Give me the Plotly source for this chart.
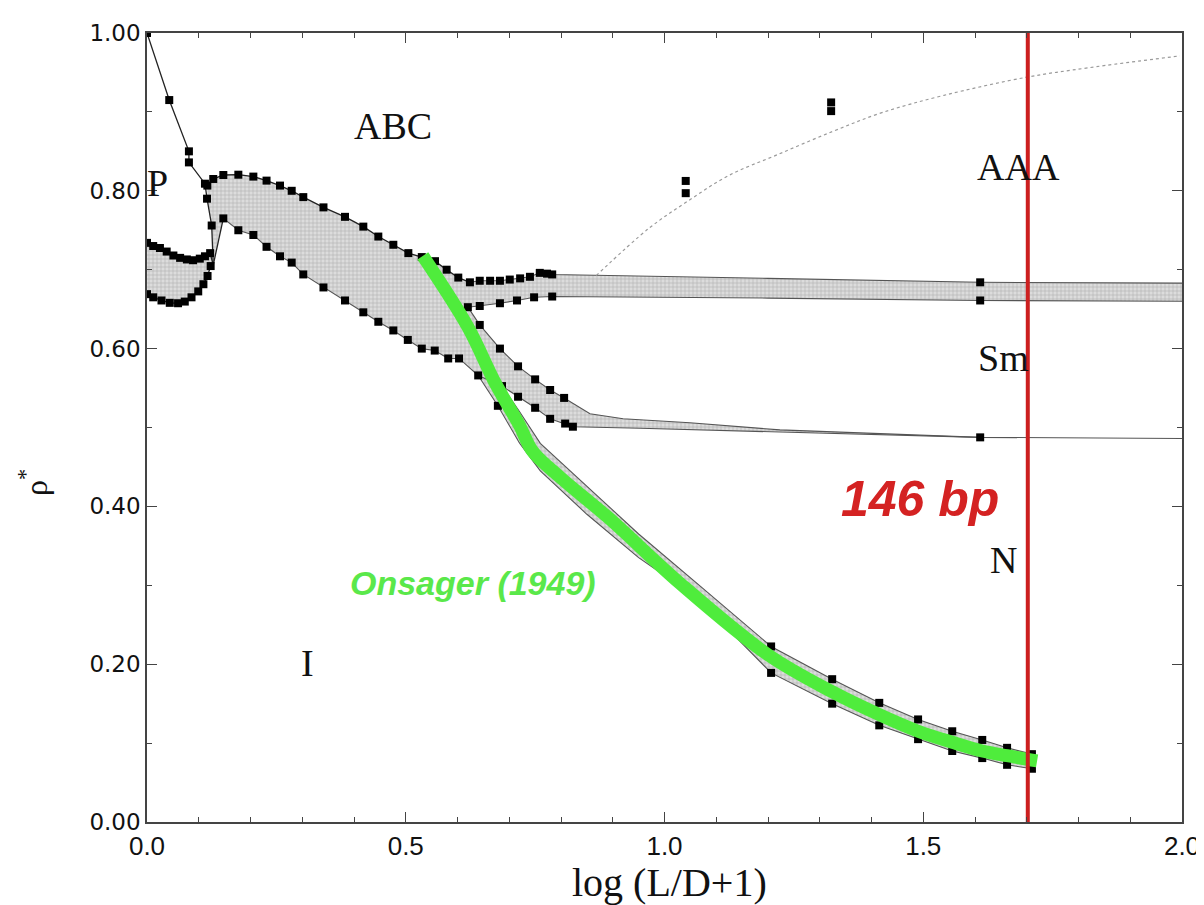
import plotly.graph_objects as go

# ---------------- data ----------------
# P boundary line from the top-left corner
p_x = [0.0, 0.043, 0.081, 0.081, 0.112, 0.116, 0.125, 0.128]
p_y = [1.0, 0.915, 0.85, 0.836, 0.809, 0.79, 0.756, 0.706]
p_dot_x = [0.0, 0.043, 0.081, 0.081, 0.112, 0.116, 0.125]
p_dot_y = [1.0, 0.915, 0.85, 0.836, 0.809, 0.79, 0.756]

# small left loop (upper / lower branch)
loopU_x = [0.0, 0.012, 0.025, 0.038, 0.051, 0.064, 0.077, 0.089, 0.102, 0.112, 0.122, 0.128]
loopU_y = [0.734, 0.730, 0.7275, 0.723, 0.718, 0.715, 0.713, 0.712, 0.714, 0.717, 0.721, 0.706]
loopL_x = [0.0, 0.012, 0.028, 0.044, 0.060, 0.073, 0.086, 0.099, 0.109, 0.117, 0.123, 0.128]
loopL_y = [0.669, 0.665, 0.661, 0.658, 0.6575, 0.6596, 0.665, 0.6725, 0.6816, 0.692, 0.7046, 0.706]

# connector from loop junction to the lower-band peak
conn_x = [0.128, 0.1475]
conn_y = [0.706, 0.765]

# upper boundary of the big coexistence band
top_x = [0.1166, 0.128, 0.1475, 0.1765, 0.2055, 0.231, 0.257, 0.2796, 0.302, 0.341,
         0.3826, 0.418, 0.447, 0.476, 0.505, 0.531, 0.5565, 0.579, 0.6015, 0.624]
top_y = [0.8066, 0.815, 0.820, 0.8204, 0.818, 0.8129, 0.8066, 0.800, 0.792, 0.779,
         0.767, 0.7546, 0.742, 0.7316, 0.721, 0.716, 0.7108, 0.700, 0.690, 0.684]

# narrow mid band (upper / lower)
midU_x = [0.624, 0.643, 0.663, 0.682, 0.701, 0.721, 0.740, 0.759, 0.773, 0.783, 1.2, 1.61, 2.0]
midU_y = [0.684, 0.686, 0.686, 0.686, 0.6875, 0.689, 0.691, 0.696, 0.695, 0.694, 0.689, 0.684, 0.683]
midU_dot_x = [0.643, 0.663, 0.682, 0.701, 0.721, 0.740, 0.759, 0.773, 0.783, 1.61]
midU_dot_y = [0.686, 0.686, 0.686, 0.6875, 0.689, 0.691, 0.696, 0.695, 0.694, 0.684]
midL_x = [0.62, 0.643, 0.682, 0.715, 0.748, 0.783, 1.2, 1.61, 2.0]
midL_y = [0.6525, 0.654, 0.6575, 0.661, 0.665, 0.666, 0.664, 0.661, 0.66]
midL_dot_x = [0.643, 0.682, 0.715, 0.748, 0.783, 1.61]
midL_dot_y = [0.654, 0.6575, 0.661, 0.665, 0.666, 0.661]

# Sm-N band upper line
smU_x = [0.62, 0.643, 0.682, 0.717, 0.750, 0.779, 0.806, 0.856, 0.92, 1.049, 1.223, 1.61, 2.0]
smU_y = [0.6525, 0.63, 0.60, 0.5775, 0.561, 0.5475, 0.5375, 0.5175, 0.511, 0.506, 0.497, 0.4875, 0.486]
smU_dot_x = [0.62, 0.643, 0.682, 0.717, 0.750, 0.779, 0.806, 1.61]
smU_dot_y = [0.6525, 0.63, 0.60, 0.5775, 0.561, 0.5475, 0.5375, 0.4875]

# lower boundary of the big band, continuing as the lower Sm-N line
low_x = [0.1475, 0.1765, 0.2055, 0.231, 0.257, 0.2796, 0.302, 0.341, 0.3826, 0.418, 0.447,
         0.476, 0.504, 0.531, 0.556, 0.582, 0.603, 0.64, 0.686, 0.717, 0.75, 0.779, 0.808,
         0.823, 0.953, 1.069, 1.223, 1.61]
low_y = [0.765, 0.750, 0.744, 0.729, 0.717, 0.709, 0.694, 0.6775, 0.661, 0.646, 0.634,
         0.623, 0.611, 0.600, 0.5975, 0.5875, 0.5875, 0.566, 0.5525, 0.539, 0.525, 0.511, 0.505,
         0.501, 0.499, 0.497, 0.495, 0.4875]
low_dot_x = [0.1475, 0.1765, 0.2055, 0.231, 0.257, 0.2796, 0.302, 0.341, 0.3826, 0.418, 0.447,
             0.476, 0.504, 0.531, 0.556, 0.582, 0.603, 0.64, 0.686, 0.717, 0.75, 0.779, 0.808, 0.823]
low_dot_y = [0.765, 0.750, 0.744, 0.729, 0.717, 0.709, 0.694, 0.6775, 0.661, 0.646, 0.634,
             0.623, 0.611, 0.600, 0.5975, 0.5875, 0.5875, 0.566, 0.5525, 0.539, 0.525, 0.511, 0.505, 0.501]

# I-N coexistence lines
inU_x = [0.686, 0.72, 0.76, 0.85, 0.95, 1.069, 1.206, 1.324, 1.415, 1.49, 1.556, 1.614, 1.662, 1.71]
inU_y = [0.5525, 0.52, 0.48, 0.425, 0.365, 0.299, 0.2225, 0.181, 0.151, 0.13, 0.115, 0.104, 0.094, 0.086]
inL_x = [0.64, 0.678, 0.72, 0.76, 0.85, 0.95, 1.069, 1.107, 1.206, 1.324, 1.415, 1.49, 1.556, 1.614, 1.662, 1.71]
inL_y = [0.566, 0.5275, 0.48, 0.445, 0.39, 0.335, 0.281, 0.255, 0.189, 0.15, 0.1225, 0.105, 0.09, 0.081, 0.0725, 0.0675]
in_dot_x = [0.678, 1.206, 1.324, 1.415, 1.49, 1.556, 1.614, 1.662, 1.71,
            1.206, 1.324, 1.415, 1.49, 1.556, 1.614, 1.662, 1.71]
in_dot_y = [0.5275, 0.2225, 0.181, 0.151, 0.13, 0.115, 0.104, 0.094, 0.086,
            0.189, 0.15, 0.1225, 0.105, 0.09, 0.081, 0.0725, 0.0675]

# dotted gray curve (upper right)
gray_x = [0.868, 0.97, 1.043, 1.123, 1.219, 1.324, 1.42, 1.54, 1.70, 1.82, 1.996]
gray_y = [0.6925, 0.7525, 0.786, 0.819, 0.846, 0.875, 0.899, 0.921, 0.944, 0.956, 0.971]

# isolated squares
iso_x = [1.041, 1.041, 1.322, 1.322]
iso_y = [0.8125, 0.797, 0.912, 0.901]

# Onsager (1949) curve
ons_x = [0.533, 0.62, 0.672, 0.72, 0.745, 0.80, 0.891, 1.03, 1.20, 1.324, 1.415, 1.49, 1.556, 1.614, 1.662, 1.72]
ons_y = [0.7175, 0.6275, 0.5575, 0.5025, 0.47, 0.436, 0.386, 0.3025, 0.212, 0.165, 0.136, 0.115, 0.101, 0.09, 0.084, 0.0775]

# 146 bp marker position
bp_x = 1.702

# region labels
lab_text = ["ABC", "P", "AAA", "Sm", "N", "I"]
lab_x = [0.475, 0.02, 1.685, 1.655, 1.655, 0.311]
lab_y = [0.882, 0.81, 0.83, 0.588, 0.332, 0.202]

# ---------------- figure ----------------
fig = go.Figure()
FILL = dict(shape="+", size=4, solidity=0.3, fgcolor="#8a8a8a", bgcolor="#dcdcdc")

# big band polygon
poly_x = (top_x + midU_x[1:] + midL_x[::-1] + smU_x[1:-1] + low_x[::-1]
          + [0.128, 0.125, 0.116])
poly_y = (top_y + midU_y[1:] + midL_y[::-1] + smU_y[1:-1] + low_y[::-1]
          + [0.71, 0.756, 0.79])
fig.add_trace(go.Scatter(x=poly_x, y=poly_y, fill="toself", mode="none",
                         fillcolor="#dcdcdc", fillpattern=FILL, hoverinfo="skip"))
# left loop polygon
fig.add_trace(go.Scatter(x=loopU_x + loopL_x[::-1], y=loopU_y + loopL_y[::-1],
                         fill="toself", mode="none", fillcolor="#dcdcdc",
                         fillpattern=FILL, hoverinfo="skip"))
# I-N band polygon
fig.add_trace(go.Scatter(x=inL_x + inU_x[::-1], y=inL_y + inU_y[::-1],
                         fill="toself", mode="none", fillcolor="#dcdcdc",
                         fillpattern=FILL, hoverinfo="skip"))

LINE = dict(color="#222222", width=1.3)
THIN = dict(color="#555555", width=1.1)
for xs, ys, ln in [(p_x, p_y, LINE), (loopU_x, loopU_y, LINE), (loopL_x, loopL_y, LINE),
                   (conn_x, conn_y, LINE), (top_x, top_y, LINE),
                   (midU_x, midU_y, THIN), (midL_x, midL_y, THIN), (smU_x, smU_y, THIN),
                   (low_x, low_y, THIN), (inU_x, inU_y, THIN), (inL_x, inL_y, THIN)]:
    fig.add_trace(go.Scatter(x=xs, y=ys, mode="lines", line=ln, hoverinfo="skip"))

fig.add_trace(go.Scatter(x=gray_x, y=gray_y, mode="lines", line_shape="spline",
                         line=dict(color="#9a9a9a", width=1.2, dash="dot"), hoverinfo="skip"))

dots_x = (p_dot_x + loopU_x[:-1] + loopL_x[:-1] + top_x + midU_dot_x + midL_dot_x
          + smU_dot_x + low_dot_x + in_dot_x + iso_x)
dots_y = (p_dot_y + loopU_y[:-1] + loopL_y[:-1] + top_y + midU_dot_y + midL_dot_y
          + smU_dot_y + low_dot_y + in_dot_y + iso_y)
fig.add_trace(go.Scatter(x=dots_x, y=dots_y, mode="markers",
                         marker=dict(symbol="square", size=8, color="black"), hoverinfo="skip"))

# Onsager line
fig.add_trace(go.Scatter(x=ons_x, y=ons_y, mode="lines", line_shape="spline",
                         line=dict(color="#4fec3c", width=13), hoverinfo="skip"))

# 146 bp vertical line
fig.add_trace(go.Scatter(x=[bp_x, bp_x], y=[0, 1], mode="lines",
                         line=dict(color="#cc1f1f", width=4), hoverinfo="skip"))

SERIF = "Liberation Serif, Times New Roman, serif"
ann = []
for t, x, y in zip(lab_text, lab_x, lab_y):
    ann.append(dict(x=x, y=y, text=t, showarrow=False, xanchor="center", yanchor="middle",
                    font=dict(family=SERIF, size=38, color="#111")))
ann.append(dict(x=1.494, y=0.409, text="<b><i>146 bp</i></b>", showarrow=False,
                font=dict(family="Liberation Sans, Arial, sans-serif", size=50, color="#d42222")))
ann.append(dict(x=0.63, y=0.3025, text="<b><i>Onsager (1949)</i></b>", showarrow=False,
                font=dict(family="Liberation Sans, Arial, sans-serif", size=34, color="#5ae84a")))
ann.append(dict(xref="paper", yref="paper", x=0.505, y=-0.077, text="log (L/D+1)",
                showarrow=False, yanchor="middle",
                font=dict(family=SERIF, size=40, color="#111")))
ann.append(dict(xref="paper", yref="paper", x=-0.11, y=0.43, text="ρ<sup>*</sup>",
                showarrow=False, textangle=-90, xanchor="center", yanchor="middle",
                font=dict(family=SERIF, size=32, color="#111")))

fig.update_layout(
    width=1204, height=905,
    margin=dict(l=139, r=30, t=14, b=91),
    paper_bgcolor="white", plot_bgcolor="white",
    showlegend=False,
    annotations=ann,
    xaxis=dict(range=[0, 2], tickmode="linear", tick0=0, dtick=0.5, tickformat=".1f",
               ticks="inside", ticklen=10, tickcolor="#444", showgrid=False, zeroline=False,
               showline=True, linecolor="#444", linewidth=1.5, mirror="ticks",
               minor=dict(dtick=0.1, ticks="inside", ticklen=5, tickcolor="#444"),
               tickfont=dict(family="Liberation Sans Narrow, Arial Narrow, sans-serif", size=26, color="#111")),
    yaxis=dict(range=[0, 1], tickmode="linear", tick0=0, dtick=0.2, tickformat=".2f",
               ticks="inside", ticklen=10, tickcolor="#444", showgrid=False, zeroline=False,
               showline=True, linecolor="#444", linewidth=1.5, mirror="ticks",
               minor=dict(dtick=0.1, ticks="inside", ticklen=5, tickcolor="#444"),
               tickfont=dict(family="DejaVu Sans, Verdana, sans-serif", size=23, color="#111")),
)

fig.write_html("out.html")
